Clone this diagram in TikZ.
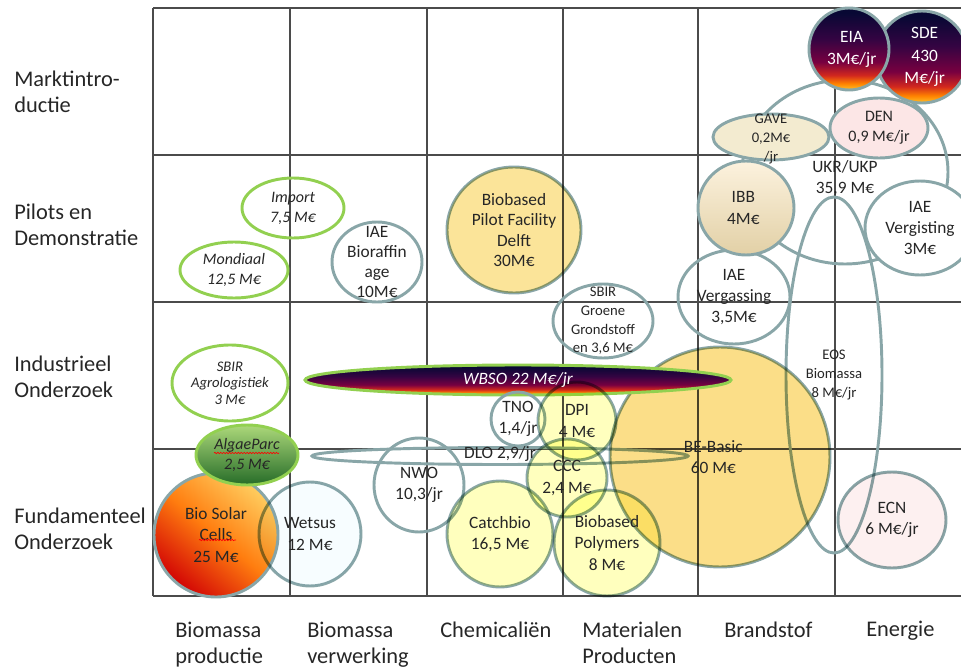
\documentclass[tikz,border=0pt]{standalone}
\usepackage{fontspec}
\setmainfont{Carlito}
\usetikzlibrary{positioning}
\usetikzlibrary{decorations.pathmorphing}

\definecolor{gridgray}{RGB}{75,75,75}
\definecolor{ringgray}{RGB}{137,166,168}
\definecolor{ringgreen}{RGB}{146,208,80}
\definecolor{basicorange}{RGB}{251,222,136}
\definecolor{delftorange}{RGB}{251,228,153}
\definecolor{paleyellow}{RGB}{255,255,190}
\definecolor{gavecream}{RGB}{243,235,208}
\definecolor{denpink}{RGB}{252,230,230}
\definecolor{ecnpink}{RGB}{253,240,240}
\definecolor{ibbtop}{RGB}{252,242,222}
\definecolor{ibbbottom}{RGB}{226,208,166}
\definecolor{algaetop}{RGB}{172,216,122}
\definecolor{algaebottom}{RGB}{38,108,40}
\definecolor{solarlight}{RGB}{255,205,95}
\definecolor{solarorange}{RGB}{255,125,15}
\definecolor{solarred}{RGB}{210,5,5}
\definecolor{sunnavy}{RGB}{8,8,52}
\definecolor{sunpurple}{RGB}{52,4,66}
\definecolor{sunmaroon}{RGB}{120,0,64}
\definecolor{sunred}{RGB}{210,40,30}
\definecolor{sunorange}{RGB}{255,130,0}
\definecolor{sunyellow}{RGB}{255,196,40}

\pgfdeclareverticalshading{sunset}{100bp}{color(0bp)=(sunyellow); color(25bp)=(sunyellow); color(29bp)=(sunorange); color(34bp)=(sunred); color(42bp)=(sunmaroon); color(56bp)=(sunpurple); color(72bp)=(sunnavy); color(100bp)=(sunnavy)}

\pgfdeclarelayer{front}
\pgfsetlayers{main,front}

\newcommand{\bigtxt}{\fontsize{13}{16}\selectfont}
\newcommand{\midtxt}{\fontsize{12}{15}\selectfont}
\newcommand{\smalltxt}{\fontsize{11}{14}\selectfont}

\tikzstyle{gridline}=[draw=gridgray, line width=1.1pt]
\tikzstyle{ring}=[draw=ringgray, line width=2.2pt]
\tikzstyle{greenring}=[draw=ringgreen, line width=2.2pt]
\tikzset{tint/.style={ring, fill=#1, blend mode=multiply}}
\tikzstyle{bubbletext}=[align=center, inner sep=0, text=black!85, font=\bigtxt]
\tikzstyle{rowtext}=[anchor=west, align=left, inner sep=0, text=black!85, font=\fontsize{16.8}{19.5}\selectfont]
\tikzstyle{coltext}=[anchor=west, align=left, inner sep=0, text=black!85, font=\fontsize{16.8}{19.5}\selectfont]
\tikzstyle{squiggle}=[draw=red, line width=0.5pt, decorate, decoration={snake, amplitude=0.5pt, segment length=2.2pt}]

% name, centre, x radius, y radius, shape style, text style, text
\newcommand{\bubble}[7]{
\path[#5] (#2) ellipse [x radius=#3, y radius=#4];
\begin{pgfonlayer}{front}
\node[bubbletext, #6] (#1) at (#2) {#7};
\end{pgfonlayer}
}

\begin{document}
\begin{tikzpicture}[x=0.75pt, y=-0.75pt]
\useasboundingbox (0,0) rectangle (961,671);
\clip (0,0) rectangle (961,671);

% grid
\draw[gridline] (153,8) -- (961,8);
\draw[gridline] (153,155) -- (961,155);
\draw[gridline] (153,302) -- (961,302);
\draw[gridline] (153,449) -- (961,449);
\draw[gridline] (153,596) -- (961,596);
\draw[gridline] (153,8) -- (153,596);
\draw[gridline] (290,8) -- (290,596);
\draw[gridline] (427,8) -- (427,596);
\draw[gridline] (563,8) -- (563,596);
\draw[gridline] (698,8) -- (698,596);
\draw[gridline] (835,8) -- (835,596);

% row and column headings
\node[rowtext] (markt) at (14,92) {Marktintro-\\ductie};
\node[rowtext] (pilots) at (14,225) {Pilots en\\Demonstratie};
\node[rowtext] (industrie) at (14,377) {Industrieel\\Onderzoek};
\node[rowtext] (fundament) at (14,529) {Fundamenteel\\Onderzoek};

\node[coltext] (bmprod) at (175,645) {Biomassa\\productie};
\node[coltext] (bmverw) at (307,645) {Biomassa\\verwerking};
\node[coltext] (chem) at (440,630) {Chemicaliën};
\node[coltext] (mat) at (582,643) {Materialen\\Producten};
\node[coltext] (brand) at (724,630) {Brandstof};
\node[coltext] (energie) at (866,631) {Energie};

% bubbles, back to front
\bubble{ukr}{845,172}{103}{92}{ring}{yshift=-4.5pt}{UKR/UKP\\35,9 M€}
\bubble{eos}{834,375}{48}{178}{ring}{font=\smalltxt}{EOS\\Biomassa\\8 M€/jr}
\bubble{dlo}{500,456}{188}{8.5}{ring}{yshift=1.5pt}{DLO 2,9/jr}
\bubble{sde}{922,57}{46}{46}{ring, shade, shading=sunset}{text=white, font=\fontsize{13}{17}\selectfont, xshift=2pt}{SDE\\430\\M€/jr}
\bubble{eia}{849,49}{40}{41}{ring, shade, shading=sunset}{text=white, font=\fontsize{13}{16.5}\selectfont, xshift=2pt}{EIA\\3M€/jr}
\bubble{den}{879,128}{49}{30}{ring, fill=denpink}{font=\midtxt}{DEN\\0,9 M€/jr}
\bubble{gave}{771,137}{58}{23}{ring, fill=gavecream}{font=\smalltxt, yshift=-1.5pt}{GAVE\\0,2M€\\/jr}
\bubble{vergisting}{920,228}{55}{47}{ring, fill=white}{font=\fontsize{13}{15.4}\selectfont}{IAE\\Vergisting\\3M€}
\bubble{vergassing}{734,297}{56}{47}{ring}{}{IAE\\Vergassing\\3,5M€}
\bubble{ibb}{746,208}{48}{47}{ring, top color=ibbtop, bottom color=ibbbottom}{xshift=-2pt}{IBB\\4M€}
\bubble{groene}{603,321}{50}{37}{ring}{font=\smalltxt}{SBIR\\Groene\\Grondstoff\\en 3,6 M€}
\bubble{delft}{514,230}{67}{63}{tint=delftorange}{font=\fontsize{13}{15.4}\selectfont}{Biobased\\Pilot Facility\\Delft\\30M€}
\bubble{bioraf}{377,262}{45}{40}{ring}{font=\fontsize{13}{15}\selectfont}{IAE\\Bioraffin\\age\\10M€}
\bubble{import}{293,208}{51}{30}{greenring}{font=\midtxt\itshape}{Import\\7,5 M€}
\bubble{mondiaal}{234,270}{54}{28}{greenring}{font=\midtxt\itshape}{Mondiaal\\12,5 M€}
\bubble{agro}{230,383}{58}{38}{greenring}{font=\fontsize{11}{12.5}\selectfont\itshape}{SBIR\\Agrologistiek\\3 M€}
\bubble{solar}{216,535}{62}{62}{ring, top color=solarlight, bottom color=solarred, middle color=solarorange, shading angle=-40}{}{Bio Solar\\Cells\\25 M€}
\bubble{wetsus}{310,534}{51}{52}{tint=white!97!cyan}{}{Wetsus\\12 M€}
\bubble{algae}{247,455}{51}{30}{greenring, top color=algaetop, bottom color=algaebottom}{font=\midtxt\itshape}{AlgaeParc\\2,5 M€}
\bubble{nwo}{419,485}{45}{47}{ring}{}{NWO\\10,3/jr}
\bubble{basic}{720,457}{110}{110}{tint=basicorange}{xshift=-5pt}{BE-Basic\\60 M€}
\bubble{wbso}{518,380}{213}{15}{greenring, shade, shading=sunset}{text=white, font=\bigtxt\itshape}{WBSO 22 M€/jr}
\bubble{tno}{518,419}{27}{27}{ring}{}{TNO\\1,4/jr}
\bubble{dpi}{577,421}{39}{39}{tint=paleyellow}{}{DPI\\4 M€}
\bubble{ccc}{567,478}{40}{39}{tint=paleyellow}{}{CCC\\2,4 M€}
\bubble{catchbio}{500,534}{53}{53}{tint=paleyellow}{}{Catchbio\\16,5 M€}
\bubble{polymers}{607,543}{53}{53}{tint=paleyellow}{}{Biobased\\Polymers\\8 M€}
\bubble{ecn}{892,520}{54}{48}{tint=ecnpink}{}{ECN\\6 M€/jr}

% spelling marks
\begin{pgfonlayer}{front}
\draw[squiggle] (214,453) -- (279,453);
\draw[squiggle] (199,540) -- (236,540);
\end{pgfonlayer}
\end{tikzpicture}
\end{document}
